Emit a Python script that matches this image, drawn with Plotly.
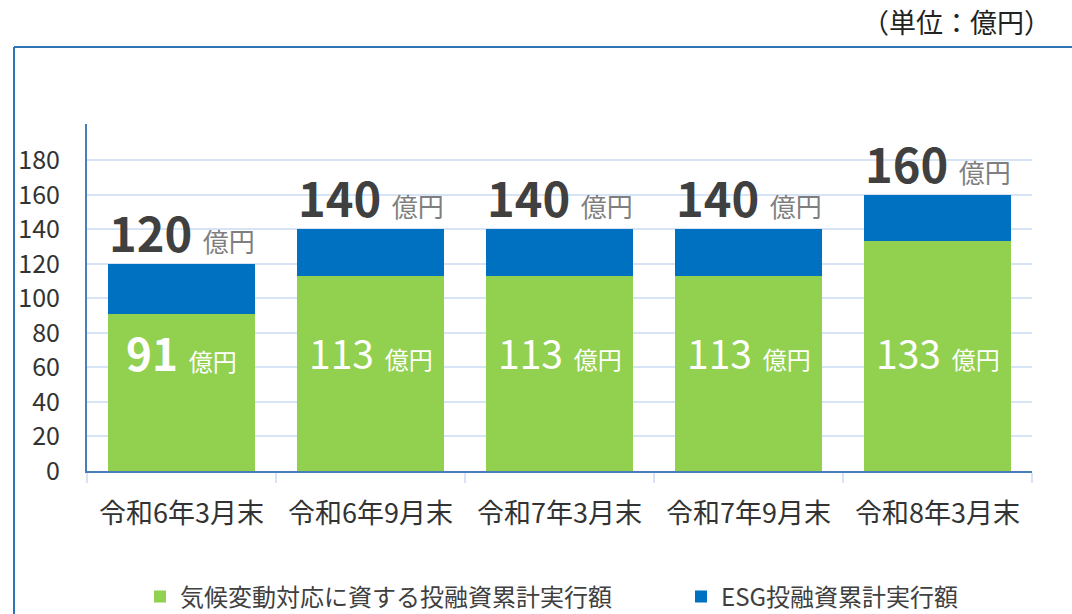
import plotly.graph_objects as go

categories = ["令和6年3月末", "令和6年9月末", "令和7年3月末", "令和7年9月末", "令和8年3月末"]
climate = [91, 113, 113, 113, 133]
esg_extra = [29, 27, 27, 27, 27]
totals = [120, 140, 140, 140, 160]
ytick_vals = [0, 20, 40, 60, 80, 100, 120, 140, 160, 180]

FONT = "Noto Sans CJK JP"
GREEN = "#92D050"
BLUE = "#0070C0"

fig = go.Figure()
fig.add_trace(go.Bar(x=categories, y=climate, name="気候変動対応に資する投融資累計実行額",
                     marker=dict(color=GREEN, line=dict(width=0)), width=0.78, legend="legend"))
fig.add_trace(go.Bar(x=categories, y=esg_extra, name="ESG投融資累計実行額",
                     marker=dict(color=BLUE, line=dict(width=0)), width=0.78, legend="legend2"))

for i, (c, g, t) in enumerate(zip(categories, climate, totals)):
    fig.add_annotation(x=c, y=t, yanchor="bottom", xanchor="center", showarrow=False, yshift=-4,
                       text=f"<b>{t}</b> <span style='font-size:26px;color:#7F7F7F'>億円</span>",
                       font=dict(family=FONT, size=47, color="#404040"))
    num = f"<b>{g}</b>" if i == 0 else f"{g}"
    size = 44 if i == 0 else 39
    gap = "&nbsp;&nbsp;"
    fig.add_annotation(x=c, y=69, yanchor="middle", xanchor="center", showarrow=False,
                       text=f"<span style='font-size:{size}px'>{num}</span>{gap}<span style='font-size:24px'>億円</span>",
                       font=dict(family=FONT, size=24, color="#FFFFFF"))

fig.add_annotation(xref="paper", yref="paper", x=(1053 - 87) / 945, y=(471 - 22) / 347,
                   xanchor="right", yanchor="middle", showarrow=False,
                   text="（単位：億円）", font=dict(family=FONT, size=27, color="#222222"))

# outer frame
fig.add_shape(type="line", xref="paper", yref="paper",
              x0=(14 - 87) / 945, x1=(1075 - 87) / 945, y0=(471 - 47) / 347, y1=(471 - 47) / 347,
              line=dict(color="#2E75B6", width=2))
fig.add_shape(type="line", xref="paper", yref="paper",
              x0=(14 - 87) / 945, x1=(14 - 87) / 945, y0=(471 - 47) / 347, y1=(471 - 620) / 347,
              line=dict(color="#2E75B6", width=2))

legfont = dict(family=FONT, size=24, color="#404040")
fig.update_layout(
    barmode="stack",
    width=1072, height=614,
    margin=dict(l=87, r=40, t=124, b=143, autoexpand=False),
    paper_bgcolor="white", plot_bgcolor="white",
    font=dict(family=FONT, color="#333333"),
    showlegend=True,
    legend=dict(orientation="h", xref="container", yref="container",
                x=140 / 1072, xanchor="left", y=(614 - 597) / 614, yanchor="middle",
                font=legfont, itemclick=False, bgcolor="rgba(0,0,0,0)"),
    legend2=dict(orientation="h", xref="container", yref="container",
                 x=681 / 1072, xanchor="left", y=(614 - 597) / 614, yanchor="middle",
                 font=legfont, itemclick=False, bgcolor="rgba(0,0,0,0)"),
    xaxis=dict(showline=True, linecolor="#4A7EBB", linewidth=2, showgrid=False,
               ticks="outside", tickson="boundaries", ticklen=10, tickcolor="#D6E4F5", tickwidth=2,
               ticklabelstandoff=18,
               tickfont=dict(family=FONT, size=27, color="#333333")),
    yaxis=dict(range=[0, 201], tickvals=ytick_vals, showline=True, linecolor="#4A7EBB", linewidth=2,
               gridcolor="#D6E4F5", gridwidth=2, zeroline=False,
               ticks="", ticklabelstandoff=20,
               tickfont=dict(family=FONT, size=25, color="#333333")),
)

fig.write_html("out.html", config={"displayModeBar": False},
               post_script="document.body.style.margin='0px';document.body.style.overflow='hidden';")
